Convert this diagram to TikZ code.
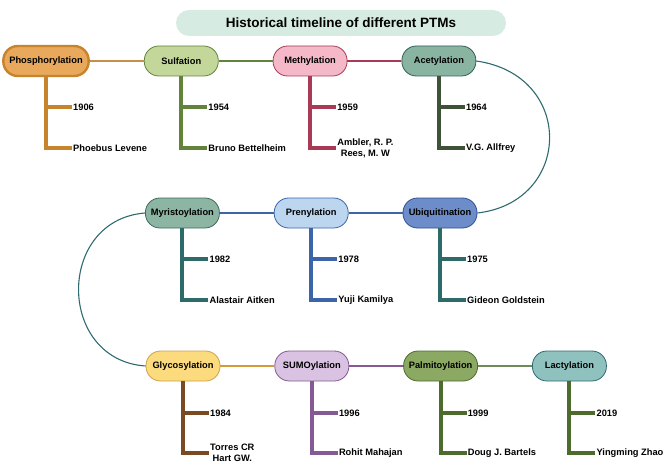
\documentclass[tikz,border=0pt]{standalone}
\usepackage{fontspec}
\setmainfont{Liberation Sans}
\usetikzlibrary{positioning,calc}

\definecolor{phosF}{HTML}{E8A95C}\definecolor{phosD}{HTML}{C8842C}
\definecolor{sulfF}{HTML}{C4D79B}\definecolor{sulfD}{HTML}{62833A}
\definecolor{methF}{HTML}{F4B8C8}\definecolor{methD}{HTML}{A83A55}
\definecolor{acetF}{HTML}{8AB4A2}\definecolor{acetD}{HTML}{2F5F55}
\definecolor{acetL}{HTML}{3E5238}
\definecolor{myrF}{HTML}{8DB5A3}\definecolor{myrD}{HTML}{3D6B5C}
\definecolor{tealL}{HTML}{2D6B6B}
\definecolor{preF}{HTML}{BBD6EE}\definecolor{preD}{HTML}{3B65A8}
\definecolor{ubqF}{HTML}{6C8DC9}\definecolor{ubqD}{HTML}{2F4F8F}
\definecolor{glyF}{HTML}{FCDB7E}\definecolor{glyD}{HTML}{C9A24A}
\definecolor{glyL}{HTML}{7A4A22}
\definecolor{sumF}{HTML}{D9C2E2}\definecolor{sumD}{HTML}{855A94}
\definecolor{palF}{HTML}{8BA963}\definecolor{palD}{HTML}{4E6B2E}
\definecolor{lacF}{HTML}{8FC1BE}\definecolor{lacD}{HTML}{2E6B70}
\definecolor{headF}{HTML}{D6ECE3}

\begin{document}
\begin{tikzpicture}[x=1pt,y=-1pt,node distance=54pt,
    ptm/.style={draw,thick,rounded corners=14.5pt,minimum width=74pt,minimum height=30pt,
      font=\bfseries\fontsize{9.3}{11}\selectfont},
    info/.style={anchor=west,inner sep=1pt,align=center,font=\bfseries\fontsize{9.3}{11}\selectfont},
    link/.style={line width=1.1pt},
    branch/.style={line width=4pt}]
    \useasboundingbox (0,0) rectangle (669,468);

    % title
    \node[fill=headF,rounded corners=13pt,minimum width=330pt,minimum height=26pt,
      font=\bfseries\fontsize{13.5}{16}\selectfont] (head) at (341,23) {Historical timeline of different PTMs};

    % first row
    \node[ptm,fill=phosF,draw=phosD,line width=2.4pt,inner xsep=6pt] (phos) at (46,61) {Phosphorylation};
    \node[ptm,fill=sulfF,draw=sulfD,right=of phos] (sulf) {Sulfation};
    \node[ptm,fill=methF,draw=methD,right=of sulf] (meth) {Methylation};
    \node[ptm,fill=acetF,draw=acetD,right=of meth] (acet) {Acetylation};

    % second row
    \node[ptm,fill=ubqF,draw=ubqD] (ubq) at (440,213) {Ubiquitination};
    \node[ptm,fill=preF,draw=preD,left=of ubq] (pre) {Prenylation};
    \node[ptm,fill=myrF,draw=myrD,left=of pre] (myr) {Myristoylation};

    % third row
    \node[ptm,fill=glyF,draw=glyD] (gly) at (183,366) {Glycosylation};
    \node[ptm,fill=sumF,draw=sumD,right=of gly] (sum) {SUMOylation};
    \node[ptm,fill=palF,draw=palD,right=of sum] (pal) {Palmitoylation};
    \node[ptm,fill=lacF,draw=lacD,right=of pal] (lac) {Lactylation};

    % years and names
    \node[info] (phos-yr) at ($(phos)+(26,46)$) {1906};
    \node[info] (phos-who) at ($(phos)+(26,87)$) {Phoebus Levene};
    \node[info] (sulf-yr) at ($(sulf)+(26,46)$) {1954};
    \node[info] (sulf-who) at ($(sulf)+(26,87)$) {Bruno Bettelheim};
    \node[info] (meth-yr) at ($(meth)+(26,46)$) {1959};
    \node[info] (meth-who) at ($(meth)+(26,87)$) {Ambler, R. P.\\Rees, M. W};
    \node[info] (acet-yr) at ($(acet)+(26,46)$) {1964};
    \node[info] (acet-who) at ($(acet)+(26,87)$) {V.G. Allfrey};
    \node[info] (myr-yr) at ($(myr)+(26,46)$) {1982};
    \node[info] (myr-who) at ($(myr)+(26,87)$) {Alastair Aitken};
    \node[info] (pre-yr) at ($(pre)+(26,46)$) {1978};
    \node[info] (pre-who) at ($(pre)+(26,87)$) {Yuji Kamilya};
    \node[info] (ubq-yr) at ($(ubq)+(26,46)$) {1975};
    \node[info] (ubq-who) at ($(ubq)+(26,87)$) {Gideon Goldstein};
    \node[info] (gly-yr) at ($(gly)+(26,47)$) {1984};
    \node[info] (gly-who) at ($(gly)+(26,87)$) {Torres CR\\Hart GW.};
    \node[info] (sum-yr) at ($(sum)+(26,47)$) {1996};
    \node[info] (sum-who) at ($(sum)+(26,87)$) {Rohit Mahajan};
    \node[info] (pal-yr) at ($(pal)+(26,47)$) {1999};
    \node[info] (pal-who) at ($(pal)+(26,87)$) {Doug J. Bartels};
    \node[info] (lac-yr) at ($(lac)+(26,47)$) {2019};
    \node[info] (lac-who) at ($(lac)+(26,87)$) {Yingming Zhao};

    % timeline links
    \draw[link,phosF!85!black] (phos) -- (sulf);
    \draw[link,sulfD] (sulf) -- (meth);
    \draw[link,methD] (meth) -- (acet);
    \draw[link,lacD] (acet.east) .. controls +(99,14) and +(95,-11) .. (ubq.east);
    \draw[link,preD] (ubq) -- (pre);
    \draw[link,preD] (pre) -- (myr);
    \draw[link,lacD] (myr.west) .. controls +(-89,7) and +(-89,-6) .. (gly.west);
    \draw[link,glyD!80!orange] (gly) -- (sum);
    \draw[link,sumD] (sum) -- (pal);
    \draw[link,palD!80!white] (pal) -- (lac);

    % branches
    \foreach \n/\c in {phos/phosD,sulf/sulfD,meth/methD,acet/acetL,myr/tealL,pre/preD,
        ubq/tealL,gly/glyL,sum/sumD,pal/palD,lac/palD} {
      \draw[branch,\c] (\n.south) |- (\n-who.west);
      \draw[branch,\c] (\n.south |- \n-yr.west) -- (\n-yr.west);
    }
\end{tikzpicture}
\end{document}
